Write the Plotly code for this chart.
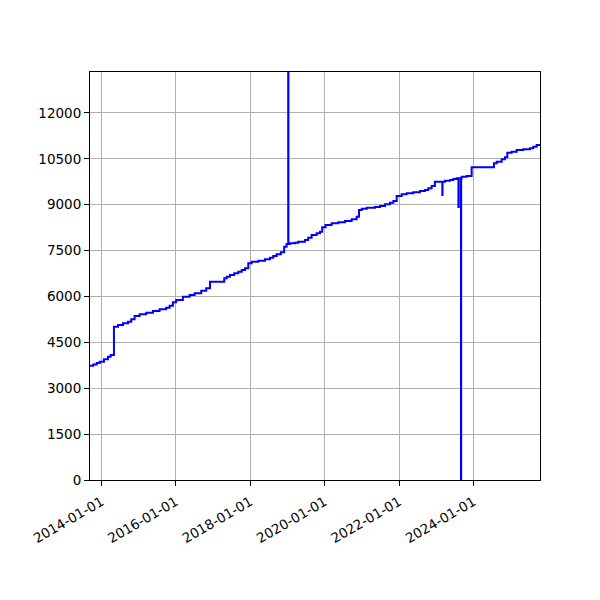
import plotly.graph_objects as go

dates = [
    "2013-09-10", "2013-10-12", "2013-11-15", "2013-12-14", "2014-01-25", "2014-03-05", "2014-04-01", "2014-05-03",
    "2014-06-12", "2014-07-31", "2014-09-18", "2014-10-20", "2014-11-22", "2015-01-10",
    "2015-03-16", "2015-05-21", "2015-07-25", "2015-09-28", "2015-11-01", "2015-12-03",
    "2016-01-04", "2016-03-10", "2016-05-15", "2016-07-03", "2016-09-06", "2016-10-25",
    "2016-12-01", "2017-04-20", "2017-05-14", "2017-06-15", "2017-07-27", "2017-09-05",
    "2017-10-09", "2017-11-10", "2017-12-12", "2018-01-14", "2018-03-20", "2018-05-25",
    "2018-07-13", "2018-08-14", "2018-09-16", "2018-10-28", "2018-11-29", "2018-12-23",
    "2019-01-08", "2019-01-10", "2019-01-25", "2019-03-14", "2019-04-16", "2019-06-21",
    "2019-07-23", "2019-08-26", "2019-10-14", "2019-11-16", "2019-12-08", "2020-01-10",
    "2020-03-09", "2020-05-14", "2020-07-18", "2020-09-22", "2020-11-10", "2020-12-03",
    "2020-12-30", "2021-02-17", "2021-05-09", "2021-06-27", "2021-08-15", "2021-10-03",
    "2021-11-05", "2021-12-08", "2022-01-26", "2022-03-16", "2022-05-20", "2022-07-25",
    "2022-09-12", "2022-10-14", "2022-11-16", "2022-12-18", "2023-03-01", "2023-03-03",
    "2023-03-27", "2023-05-15", "2023-06-16", "2023-07-19", "2023-08-06", "2023-08-09",
    "2023-08-31", "2023-09-02", "2023-09-07", "2023-10-26", "2023-12-14", "2024-07-20",
    "2024-08-16", "2024-10-04", "2024-11-05", "2024-11-28", "2025-01-10", "2025-02-28",
    "2025-05-04", "2025-07-08", "2025-08-10", "2025-09-12", "2025-10-15",
]
values = [
    3737, 3780, 3825, 3868, 3946, 4032, 4087, 5013,
    5068, 5123, 5177, 5253, 5362, 5417,
    5471, 5526, 5580, 5635, 5700, 5809,
    5886, 5995, 6049, 6104, 6190, 6268,
    6485, 6594, 6649, 6703, 6758, 6812,
    6867, 6921, 7085, 7139, 7172, 7215,
    7270, 7324, 7379, 7444, 7630, 7717,
    20000, 7717, 7739, 7761, 7793, 7848,
    7924, 8011, 8066, 8120, 8262, 8338,
    8393, 8426, 8469, 8524, 8611, 8829,
    8872, 8905, 8927, 8959, 9014, 9068,
    9123, 9286, 9341, 9374, 9406, 9450,
    9483, 9537, 9613, 9755, 9319, 9755,
    9788, 9810, 9843, 9865, 8930, 9865,
    0, 9865, 9919, 9941, 10224, 10355,
    10409, 10485, 10550, 10703, 10736, 10790,
    10812, 10845, 10899, 10954, 10986,
]
y_ticks = [0, 1500, 3000, 4500, 6000, 7500, 9000, 10500, 12000]
x_ticks = ["2014-01-01", "2016-01-01", "2018-01-01", "2020-01-01", "2022-01-01", "2024-01-01"]

fig = go.Figure(go.Scatter(
    x=dates, y=values, mode="lines", line_shape="hv",
    line=dict(color="#0000ff", width=2), showlegend=False,
))

axis_common = dict(
    showline=True, linecolor="black", linewidth=1, mirror=True,
    ticks="outside", ticklen=5, tickcolor="black", tickwidth=1,
    showgrid=True, gridcolor="#b0b0b0", gridwidth=1, zeroline=False,
    tickfont=dict(family="DejaVu Sans", size=13.5, color="black"),
    automargin=False,
)

fig.update_layout(
    width=600, height=600,
    margin=dict(l=82, r=68, t=64, b=128),
    paper_bgcolor="white", plot_bgcolor="white",
    xaxis=dict(range=["2013-09-10", "2025-10-15"], tickvals=x_ticks,
               ticktext=x_ticks, tickangle=-30, ticklabelstandoff=3, **axis_common),
    yaxis=dict(range=[0, 13340], tickvals=y_ticks,
               ticktext=[str(v) for v in y_ticks], **axis_common),
)

fig.write_html("out.html")
